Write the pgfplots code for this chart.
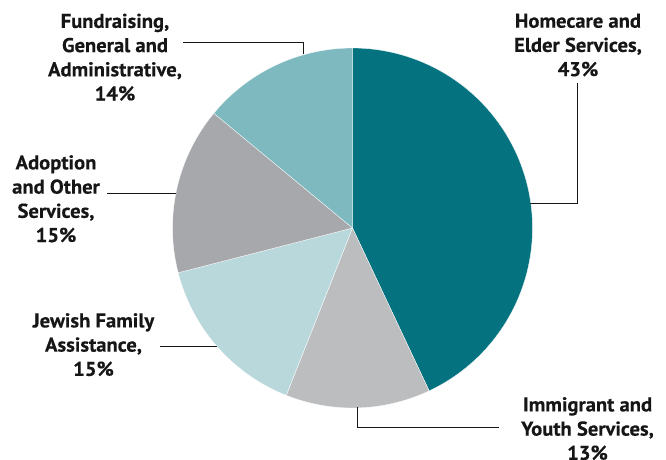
\documentclass[border=0pt]{standalone}
\usepackage{fontspec}
\setmainfont{PT Sans}
\newfontfamily\labfont[FakeStretch=1.03, FakeBold=0.35]{PT Sans Bold}
\usepackage{pgfplots}
\pgfplotsset{compat=1.18}

\definecolor{cHome}{HTML}{04737F}
\definecolor{cImm}{HTML}{BCBDBF}
\definecolor{cJew}{HTML}{B9D8DC}
\definecolor{cAdo}{HTML}{A7A8AC}
\definecolor{cFun}{HTML}{7FB9C0}
\definecolor{txt}{HTML}{161616}

% shares in percent, clockwise from 12 o'clock
\def\pHome{43}
\def\pImm{13}
\def\pJew{15}
\def\pAdo{15}
\def\pFun{14}

\pgfmathsetmacro{\aA}{90}
\pgfmathsetmacro{\aB}{\aA-3.6*\pHome}
\pgfmathsetmacro{\aC}{\aB-3.6*\pImm}
\pgfmathsetmacro{\aD}{\aC-3.6*\pJew}
\pgfmathsetmacro{\aE}{\aD-3.6*\pAdo}
\pgfmathsetmacro{\aF}{\aE-3.6*\pFun}

\def\cx{352.5}
\def\cy{228}
\def\rr{180}

\tikzset{lab/.style={anchor=north, inner sep=0pt, align=center, text=txt,
  font=\labfont\fontsize{20bp}{24.2bp}\selectfont}}

\begin{document}
\begin{tikzpicture}
\begin{axis}[
  width=666bp, height=460bp, scale only axis,
  hide axis, clip=false,
  xmin=0, xmax=666, ymin=0, ymax=460,
  y dir=reverse,
]
\addplot[fill=cHome, draw=white, line width=0.3pt, domain=\aB:\aA, samples=90, variable=\t]
  ({\cx+\rr*cos(\t)},{\cy-\rr*sin(\t)}) -- (axis cs:\cx,\cy) -- cycle;
\addplot[fill=cImm, draw=white, line width=0.3pt, domain=\aC:\aB, samples=40, variable=\t]
  ({\cx+\rr*cos(\t)},{\cy-\rr*sin(\t)}) -- (axis cs:\cx,\cy) -- cycle;
\addplot[fill=cJew, draw=white, line width=0.3pt, domain=\aD:\aC, samples=40, variable=\t]
  ({\cx+\rr*cos(\t)},{\cy-\rr*sin(\t)}) -- (axis cs:\cx,\cy) -- cycle;
\addplot[fill=cAdo, draw=white, line width=0.3pt, domain=\aE:\aD, samples=40, variable=\t]
  ({\cx+\rr*cos(\t)},{\cy-\rr*sin(\t)}) -- (axis cs:\cx,\cy) -- cycle;
\addplot[fill=cFun, draw=white, line width=0.3pt, domain=\aF:\aE, samples=40, variable=\t]
  ({\cx+\rr*cos(\t)},{\cy-\rr*sin(\t)}) -- (axis cs:\cx,\cy) -- cycle;

% leader lines
\draw[txt, line width=0.9bp] (axis cs:183,42.5) -- (axis cs:303,42.5) -- (axis cs:303,54);
\draw[txt, line width=0.9bp] (axis cs:577,83) -- (axis cs:577,203.5) -- (axis cs:530,203.5);
\draw[txt, line width=0.9bp] (axis cs:107,193.5) -- (axis cs:176,193.5);
\draw[txt, line width=0.9bp] (axis cs:160,346) -- (axis cs:217,346);
\draw[txt, line width=0.9bp] (axis cs:357,407) -- (axis cs:357,427) -- (axis cs:499,427);

% labels
\node[lab] at (axis cs:115,13.5) {Fundraising,\\General and\\Administrative,\\14\%};
\node[lab] at (axis cs:578,13.5) {Homecare and\\Elder Services,\\43\%};
\node[lab] at (axis cs:56,155) {Adoption\\and Other\\Services,\\15\%};
\node[lab] at (axis cs:93.5,313) {Jewish Family\\Assistance,\\15\%};
\node[lab] at (axis cs:587.5,397) {Immigrant and\\Youth Services,\\13\%};
\end{axis}
\pgfresetboundingbox
\path[use as bounding box] (current axis.south west) rectangle (current axis.north east);
\end{tikzpicture}
\end{document}
